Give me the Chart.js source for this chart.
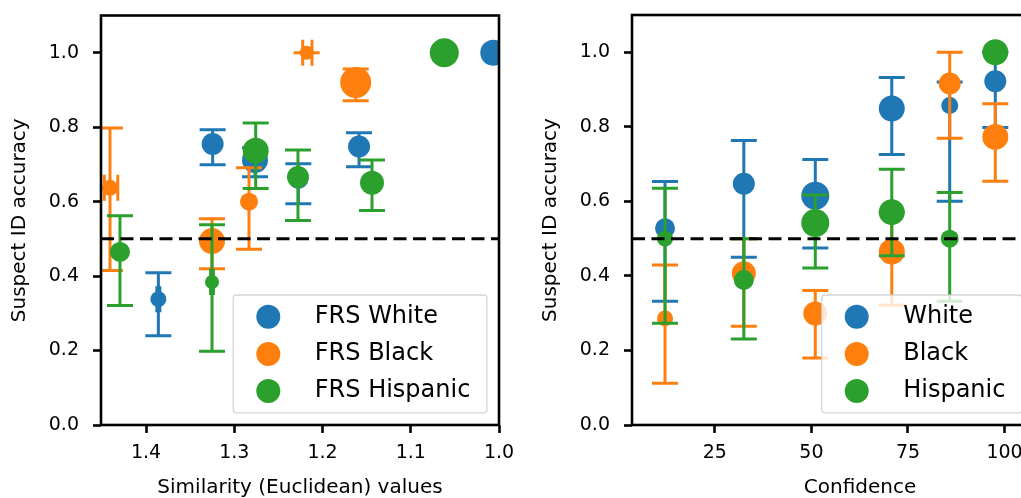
<!DOCTYPE html>
<html><head><meta charset="utf-8">
<script src="https://cdn.jsdelivr.net/npm/chart.js@4.4.0/dist/chart.umd.min.js"></script>
<style>
html,body{margin:0;padding:0;width:1021px;height:498px;overflow:hidden;background:#fff;}
canvas{position:absolute;top:0;}
</style></head><body>
<canvas id="left" width="519" height="498" style="left:0px;width:519px;height:498px"></canvas>
<canvas id="right" width="571" height="498" style="left:531px;width:571px;height:498px"></canvas>
<script>
// ---------- data ----------
const yTicks = [0.0, 0.2, 0.4, 0.6, 0.8, 1.0];
const simTicks = [1.4, 1.3, 1.2, 1.1, 1.0];
const confTicks = [25, 50, 75, 100];
const chanceLevel = 0.5;

const leftLabels = ['FRS White', 'FRS Black', 'FRS Hispanic'];
const rightLabels = ['White', 'Black', 'Hispanic'];

// Left panel: similarity (Euclidean) values
const simWhiteX  = [1.386, 1.3245, 1.2765, 1.2274, 1.1586, 1.0065];
const simWhiteY  = [0.338, 0.755, 0.712, 0.661, 0.748, 1.0];
const simWhiteLo = [0.240, 0.699, 0.667, 0.594, 0.694, null];
const simWhiteHi = [0.409, 0.793, 0.745, 0.702, 0.785, null];
const simWhiteXLo = [1.3877, null, null, null, null, null];
const simWhiteXHi = [1.3843, null, null, null, null, null];
const simWhiteN  = [8, 11, 13, 10, 11, 13];

const simBlackX  = [1.4408, 1.3252, 1.2833, 1.2179, 1.1624];
const simBlackY  = [0.637, 0.494, 0.600, 1.0, 0.920];
const simBlackLo = [0.415, 0.420, 0.472, 1.0, 0.871];
const simBlackHi = [0.798, 0.554, 0.691, 1.0, 0.956];
const simBlackXLo = [1.4472, null, null, 1.2224, null];
const simBlackXHi = [1.4320, null, null, 1.2119, null];
const simBlackN  = [8, 13, 9, 7, 15.5];

const simHispX  = [1.4295, 1.3252, 1.2757, 1.2278, 1.1439, 1.062];
const simHispY  = [0.465, 0.384, 0.737, 0.666, 0.651, 1.0];
const simHispLo = [0.321, 0.198, 0.635, 0.549, 0.576, null];
const simHispHi = [0.562, 0.538, 0.811, 0.739, 0.712, null];
const simHispXLo = [null, 1.3268, null, null, null, null];
const simHispXHi = [null, 1.3236, null, null, null, null];
const simHispN  = [10, 7, 13, 11, 12, 14.5];

// Right panel: confidence
const confX = [12.1, 32.5, 51.0, 70.8, 85.8, 97.6];
const confWhiteY  = [0.528, 0.647, 0.615, 0.849, 0.857, 0.922];
const confWhiteLo = [0.332, 0.450, 0.475, 0.726, 0.600, 0.798];
const confWhiteHi = [0.653, 0.763, 0.712, 0.932, 0.920, 1.0];
const confWhiteN  = [10, 11, 14, 13, 8.5, 11];

const confBlackY  = [0.286, 0.407, 0.299, 0.465, 0.916, 0.773];
const confBlackLo = [0.112, 0.265, 0.180, 0.321, 0.769, 0.654];
const confBlackHi = [0.429, 0.500, 0.361, 0.571, 1.0, 0.862];
const confBlackN  = [8, 12, 12, 13, 11, 13];

const confHispY  = [0.500, 0.389, 0.542, 0.571, 0.500, 1.0];
const confHispLo = [0.273, 0.231, 0.421, 0.454, 0.332, null];
const confHispHi = [0.635, 0.500, 0.617, 0.686, 0.624, null];
const confHispN  = [8, 10, 14, 13, 9, 13];

// ---------- styling ----------
const COLORS = ['#1f77b4', '#ff7f0e', '#2ca02c'];
const FONT = 'DejaVu Sans';
Chart.defaults.color = '#000';
Chart.defaults.font.family = FONT;

const pts = (xs, ys) => xs.map((x, i) => ({x: x, y: ys[i]}));

const errorBarPlugin = {
  id: 'errorBars',
  beforeDatasetDraw(chart, args) {
    const ds = chart.data.datasets[args.index];
    const xs = chart.scales.x, ys = chart.scales.y;
    const ctx = chart.ctx, a = chart.chartArea;
    const cap = 13;
    ctx.save();
    ctx.beginPath(); ctx.rect(a.left, a.top, a.right - a.left, a.bottom - a.top); ctx.clip();
    ctx.strokeStyle = ds.backgroundColor; ctx.lineWidth = 3; ctx.lineCap = 'butt';
    ds.data.forEach((p, i) => {
      const px = xs.getPixelForValue(p.x), py = ys.getPixelForValue(p.y);
      const lo = ds.yLo[i], hi = ds.yHi[i];
      if (lo != null && hi != null) {
        const pl = ys.getPixelForValue(lo), ph = ys.getPixelForValue(hi);
        ctx.beginPath();
        ctx.moveTo(px, pl); ctx.lineTo(px, ph);
        ctx.moveTo(px - cap, pl); ctx.lineTo(px + cap, pl);
        ctx.moveTo(px - cap, ph); ctx.lineTo(px + cap, ph);
        ctx.stroke();
      }
      if (ds.xLo && ds.xLo[i] != null) {
        const xl = xs.getPixelForValue(ds.xLo[i]), xh = xs.getPixelForValue(ds.xHi[i]);
        ctx.beginPath();
        ctx.moveTo(xl, py); ctx.lineTo(xh, py);
        ctx.moveTo(xl, py - cap); ctx.lineTo(xl, py + cap);
        ctx.moveTo(xh, py - cap); ctx.lineTo(xh, py + cap);
        ctx.stroke();
      }
    });
    ctx.restore();
  }
};

const refLinePlugin = {
  id: 'refLine',
  afterDatasetsDraw(chart) {
    const ctx = chart.ctx, a = chart.chartArea;
    const y = chart.scales.y.getPixelForValue(chanceLevel);
    ctx.save();
    ctx.beginPath(); ctx.rect(a.left, a.top, a.right - a.left, a.bottom - a.top); ctx.clip();
    ctx.strokeStyle = '#000'; ctx.lineWidth = 3; ctx.setLineDash([13, 6.5]); ctx.lineDashOffset = 0;
    ctx.beginPath(); ctx.moveTo(a.left, y); ctx.lineTo(a.right, y); ctx.stroke();
    ctx.restore();
  }
};

const framePlugin = {
  id: 'frame',
  afterDraw(chart) {
    const ctx = chart.ctx, a = chart.chartArea;
    ctx.save();
    ctx.strokeStyle = '#000'; ctx.lineWidth = 2.6;
    ctx.strokeRect(a.left, a.top, a.right - a.left, a.bottom - a.top);
    ctx.restore();
  }
};

function legendPlugin(frameLeft, frameTop) {
  return {
    id: 'boxLegend',
    afterDraw(chart) {
      const ctx = chart.ctx;
      const dss = chart.data.datasets;
      ctx.save();
      ctx.font = '24px "' + FONT + '"';
      let maxW = 0;
      dss.forEach(d => { maxW = Math.max(maxW, ctx.measureText(d.label).width); });
      const textOff = 81.5, markOff = 35, rowH = 37.2, firstRow = 21.7;
      const w = textOff + maxW + 16.5, h = firstRow * 2 + rowH * (dss.length - 1);
      const x = frameLeft, y = frameTop, r = 3;
      ctx.beginPath();
      ctx.moveTo(x + r, y); ctx.lineTo(x + w - r, y); ctx.arcTo(x + w, y, x + w, y + r, r);
      ctx.lineTo(x + w, y + h - r); ctx.arcTo(x + w, y + h, x + w - r, y + h, r);
      ctx.lineTo(x + r, y + h); ctx.arcTo(x, y + h, x, y + h - r, r);
      ctx.lineTo(x, y + r); ctx.arcTo(x, y, x + r, y, r); ctx.closePath();
      ctx.fillStyle = 'rgba(255,255,255,0.8)'; ctx.fill();
      ctx.strokeStyle = 'rgba(204,204,204,0.8)'; ctx.lineWidth = 1.3; ctx.stroke();
      dss.forEach((d, i) => {
        const cy = y + firstRow + i * rowH;
        ctx.fillStyle = d.backgroundColor;
        ctx.beginPath(); ctx.arc(x + markOff, cy, 12, 0, Math.PI * 2); ctx.fill();
        ctx.fillStyle = '#000'; ctx.textBaseline = 'middle'; ctx.textAlign = 'left';
        ctx.fillText(d.label, x + textOff, cy);
      });
      ctx.restore();
    }
  };
}

function makeDataset(label, color, order, xs, ys, lo, hi, n, xlo, xhi) {
  return {
    label: label, data: pts(xs, ys), yLo: lo, yHi: hi, xLo: xlo || null, xHi: xhi || null,
    backgroundColor: color, borderColor: color, borderWidth: 0,
    pointRadius: n, pointHoverRadius: n, pointStyle: 'circle', order: order
  };
}

function yScale() {
  return {
    min: 0, max: 1.1,
    afterBuildTicks: ax => { ax.ticks = yTicks.map(v => ({value: v})); },
    afterFit: ax => { ax.width = 101; ax.paddingTop = 0; ax.paddingBottom = 0; },
    ticks: {font: {size: 19}, padding: 14, callback: v => Number(v).toFixed(1)},
    grid: {drawOnChartArea: false, drawTicks: true, tickLength: 8, tickWidth: 2.6, tickColor: '#000'},
    border: {display: false},
    title: {display: true, text: 'Suspect ID accuracy', font: {size: 20, lineHeight: 1.2}, padding: {top: 8, bottom: 0}, color: '#000'}
  };
}

function xScale(min, max, reverse, tickVals, fmt, title) {
  return {
    type: 'linear', min: min, max: max, reverse: reverse,
    afterBuildTicks: ax => { ax.ticks = tickVals.map(v => ({value: v})); },
    afterFit: ax => { ax.height = 73; ax.paddingLeft = 0; ax.paddingRight = 0; },
    ticks: {font: {size: 19}, padding: 9, maxRotation: 0, autoSkip: false, callback: fmt},
    grid: {drawOnChartArea: false, drawTicks: true, tickLength: 8, tickWidth: 2.6, tickColor: '#000'},
    border: {display: false},
    title: {display: true, text: title, font: {size: 20, lineHeight: 1.0}, padding: {top: 0, bottom: 0}, color: '#000'}
  };
}

function baseOptions(xs, padRight) {
  return {
    responsive: false, animation: false, events: [],
    layout: {padding: {top: 15, left: 0, right: padRight, bottom: 0}},
    plugins: {legend: {display: false}, tooltip: {enabled: false}},
    scales: {x: xs, y: yScale()}
  };
}

new Chart(document.getElementById('left'), {
  type: 'scatter',
  data: {datasets: [
    makeDataset(leftLabels[0], COLORS[0], 2, simWhiteX, simWhiteY, simWhiteLo, simWhiteHi, simWhiteN, simWhiteXLo, simWhiteXHi),
    makeDataset(leftLabels[1], COLORS[1], 1, simBlackX, simBlackY, simBlackLo, simBlackHi, simBlackN, simBlackXLo, simBlackXHi),
    makeDataset(leftLabels[2], COLORS[2], 0, simHispX, simHispY, simHispLo, simHispHi, simHispN, simHispXLo, simHispXHi)
  ]},
  options: baseOptions(xScale(1.0, 1.451, true, simTicks, v => Number(v).toFixed(1), 'Similarity (Euclidean) values'), 20),
  plugins: [errorBarPlugin, refLinePlugin, framePlugin, legendPlugin(233.3, 295)]
});

new Chart(document.getElementById('right'), {
  type: 'scatter',
  data: {datasets: [
    makeDataset(rightLabels[0], COLORS[0], 2, confX, confWhiteY, confWhiteLo, confWhiteHi, confWhiteN),
    makeDataset(rightLabels[1], COLORS[1], 1, confX, confBlackY, confBlackLo, confBlackHi, confBlackN),
    makeDataset(rightLabels[2], COLORS[2], 0, confX, confHispY, confHispLo, confHispHi, confHispN)
  ]},
  options: baseOptions(xScale(3.55, 121.6, false, confTicks, v => String(Math.round(v)), 'Confidence'), 11),
  plugins: [errorBarPlugin, refLinePlugin, framePlugin, legendPlugin(290.7, 295)]
});
</script>
</body></html>
